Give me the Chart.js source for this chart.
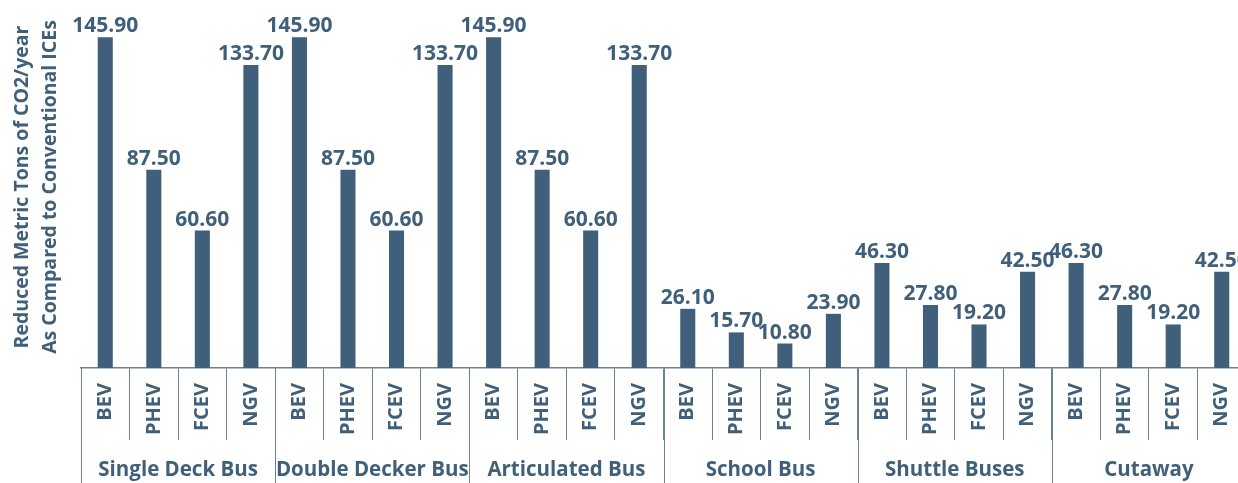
<!DOCTYPE html>
<html>
<head>
<meta charset="utf-8">
<script src="https://cdn.jsdelivr.net/npm/chart.js@4.4.1/dist/chart.umd.min.js"></script>
<style>
  html, body { margin: 0; padding: 0; background: #ffffff; overflow: hidden; }
  #wrap { width: 1238px; height: 483px; overflow: hidden; position: relative; }
  canvas { display: block; }
</style>
</head>
<body>
<div id="wrap"><canvas id="c" width="1246" height="483"></canvas></div>
<script>
// ---- data ----
const groups = ['Single Deck Bus', 'Double Decker Bus', 'Articulated Bus', 'School Bus', 'Shuttle Buses', 'Cutaway'];
const vehicleTypes = ['BEV', 'PHEV', 'FCEV', 'NGV'];
const singleDeckBus = [145.90, 87.50, 60.60, 133.70];
const doubleDeckerBus = [145.90, 87.50, 60.60, 133.70];
const articulatedBus = [145.90, 87.50, 60.60, 133.70];
const schoolBus = [26.10, 15.70, 10.80, 23.90];
const shuttleBuses = [46.30, 27.80, 19.20, 42.50];
const cutaway = [46.30, 27.80, 19.20, 42.50];
const yTitleLines = ['Reduced Metric Tons of CO2/year', 'As Compared to Conventional ICEs'];

const groupValues = [singleDeckBus, doubleDeckerBus, articulatedBus, schoolBus, shuttleBuses, cutaway];
const labels = [];
const values = [];
groupValues.forEach((arr) => arr.forEach((v, i) => { labels.push(vehicleTypes[i]); values.push(v); }));

const INK = '#3f5f7a';
const LINE = '#6a8296';
const FONT = '"Open Sans", "Noto Sans", sans-serif';

const overlay = {
  id: 'overlay',
  afterDatasetsDraw(chart) {
    const ctx = chart.ctx;
    const meta = chart.getDatasetMeta(0);
    ctx.save();
    ctx.fillStyle = INK;
    ctx.font = 'bold 21px ' + FONT;
    ctx.textAlign = 'center';
    ctx.textBaseline = 'alphabetic';
    meta.data.forEach((bar, i) => {
      ctx.fillText(values[i].toFixed(2), bar.x, bar.y - 5);
    });
    ctx.restore();
  },
  afterDraw(chart) {
    const ctx = chart.ctx;
    const xs = chart.scales.x;
    const area = chart.chartArea;
    const per = vehicleTypes.length;
    const half = (xs.getPixelForValue(1) - xs.getPixelForValue(0)) / 2;
    ctx.save();
    // group separators
    ctx.strokeStyle = LINE;
    ctx.lineWidth = 1;
    for (let g = 0; g <= groups.length; g++) {
      const idx = g * per;
      const x = Math.round(idx < labels.length ? xs.getPixelForValue(idx) - half : xs.getPixelForValue(labels.length - 1) + half) + 0.5;
      ctx.beginPath();
      ctx.moveTo(x, area.bottom);
      ctx.lineTo(x, chart.height);
      ctx.stroke();
    }
    // group labels
    ctx.fillStyle = INK;
    ctx.font = 'bold 20.5px ' + FONT;
    ctx.textAlign = 'center';
    ctx.textBaseline = 'middle';
    groups.forEach((name, g) => {
      const x0 = xs.getPixelForValue(g * per);
      const x1 = xs.getPixelForValue(g * per + per - 1);
      ctx.fillText(name, (x0 + x1) / 2, 470);
    });
    // y axis title
    ctx.font = 'bold 19.5px ' + FONT;
    const cy = 187;
    [22, 50].forEach((x, i) => {
      ctx.save();
      ctx.translate(x, cy);
      ctx.rotate(-Math.PI / 2);
      ctx.fillText(yTitleLines[i], 0, 0);
      ctx.restore();
    });
    ctx.restore();
  }
};

new Chart(document.getElementById('c'), {
  type: 'bar',
  data: {
    labels: labels,
    datasets: [{
      data: values,
      backgroundColor: INK,
      borderWidth: 0,
      barPercentage: 0.31,
      categoryPercentage: 1.0
    }]
  },
  options: {
    responsive: false,
    animation: false,
    events: [],
    layout: { padding: { left: 81, top: 37, right: 0, bottom: 0 } },
    plugins: { legend: { display: false }, tooltip: { enabled: false } },
    scales: {
      y: {
        display: false,
        min: 0,
        max: 146
      },
      x: {
        offset: true,
        grid: { offset: true, drawOnChartArea: false, drawTicks: true, tickLength: 72, color: LINE, lineWidth: 1 },
        border: { display: true, color: LINE, width: 1.5 },
        ticks: {
          autoSkip: false,
          minRotation: 90,
          maxRotation: 90,
          padding: -57,
          color: INK,
          font: { family: FONT, size: 20, weight: 'bold' }
        },
        afterFit(scale) { scale.height = 115; }
      }
    }
  },
  plugins: [overlay]
});
</script>
</body>
</html>
